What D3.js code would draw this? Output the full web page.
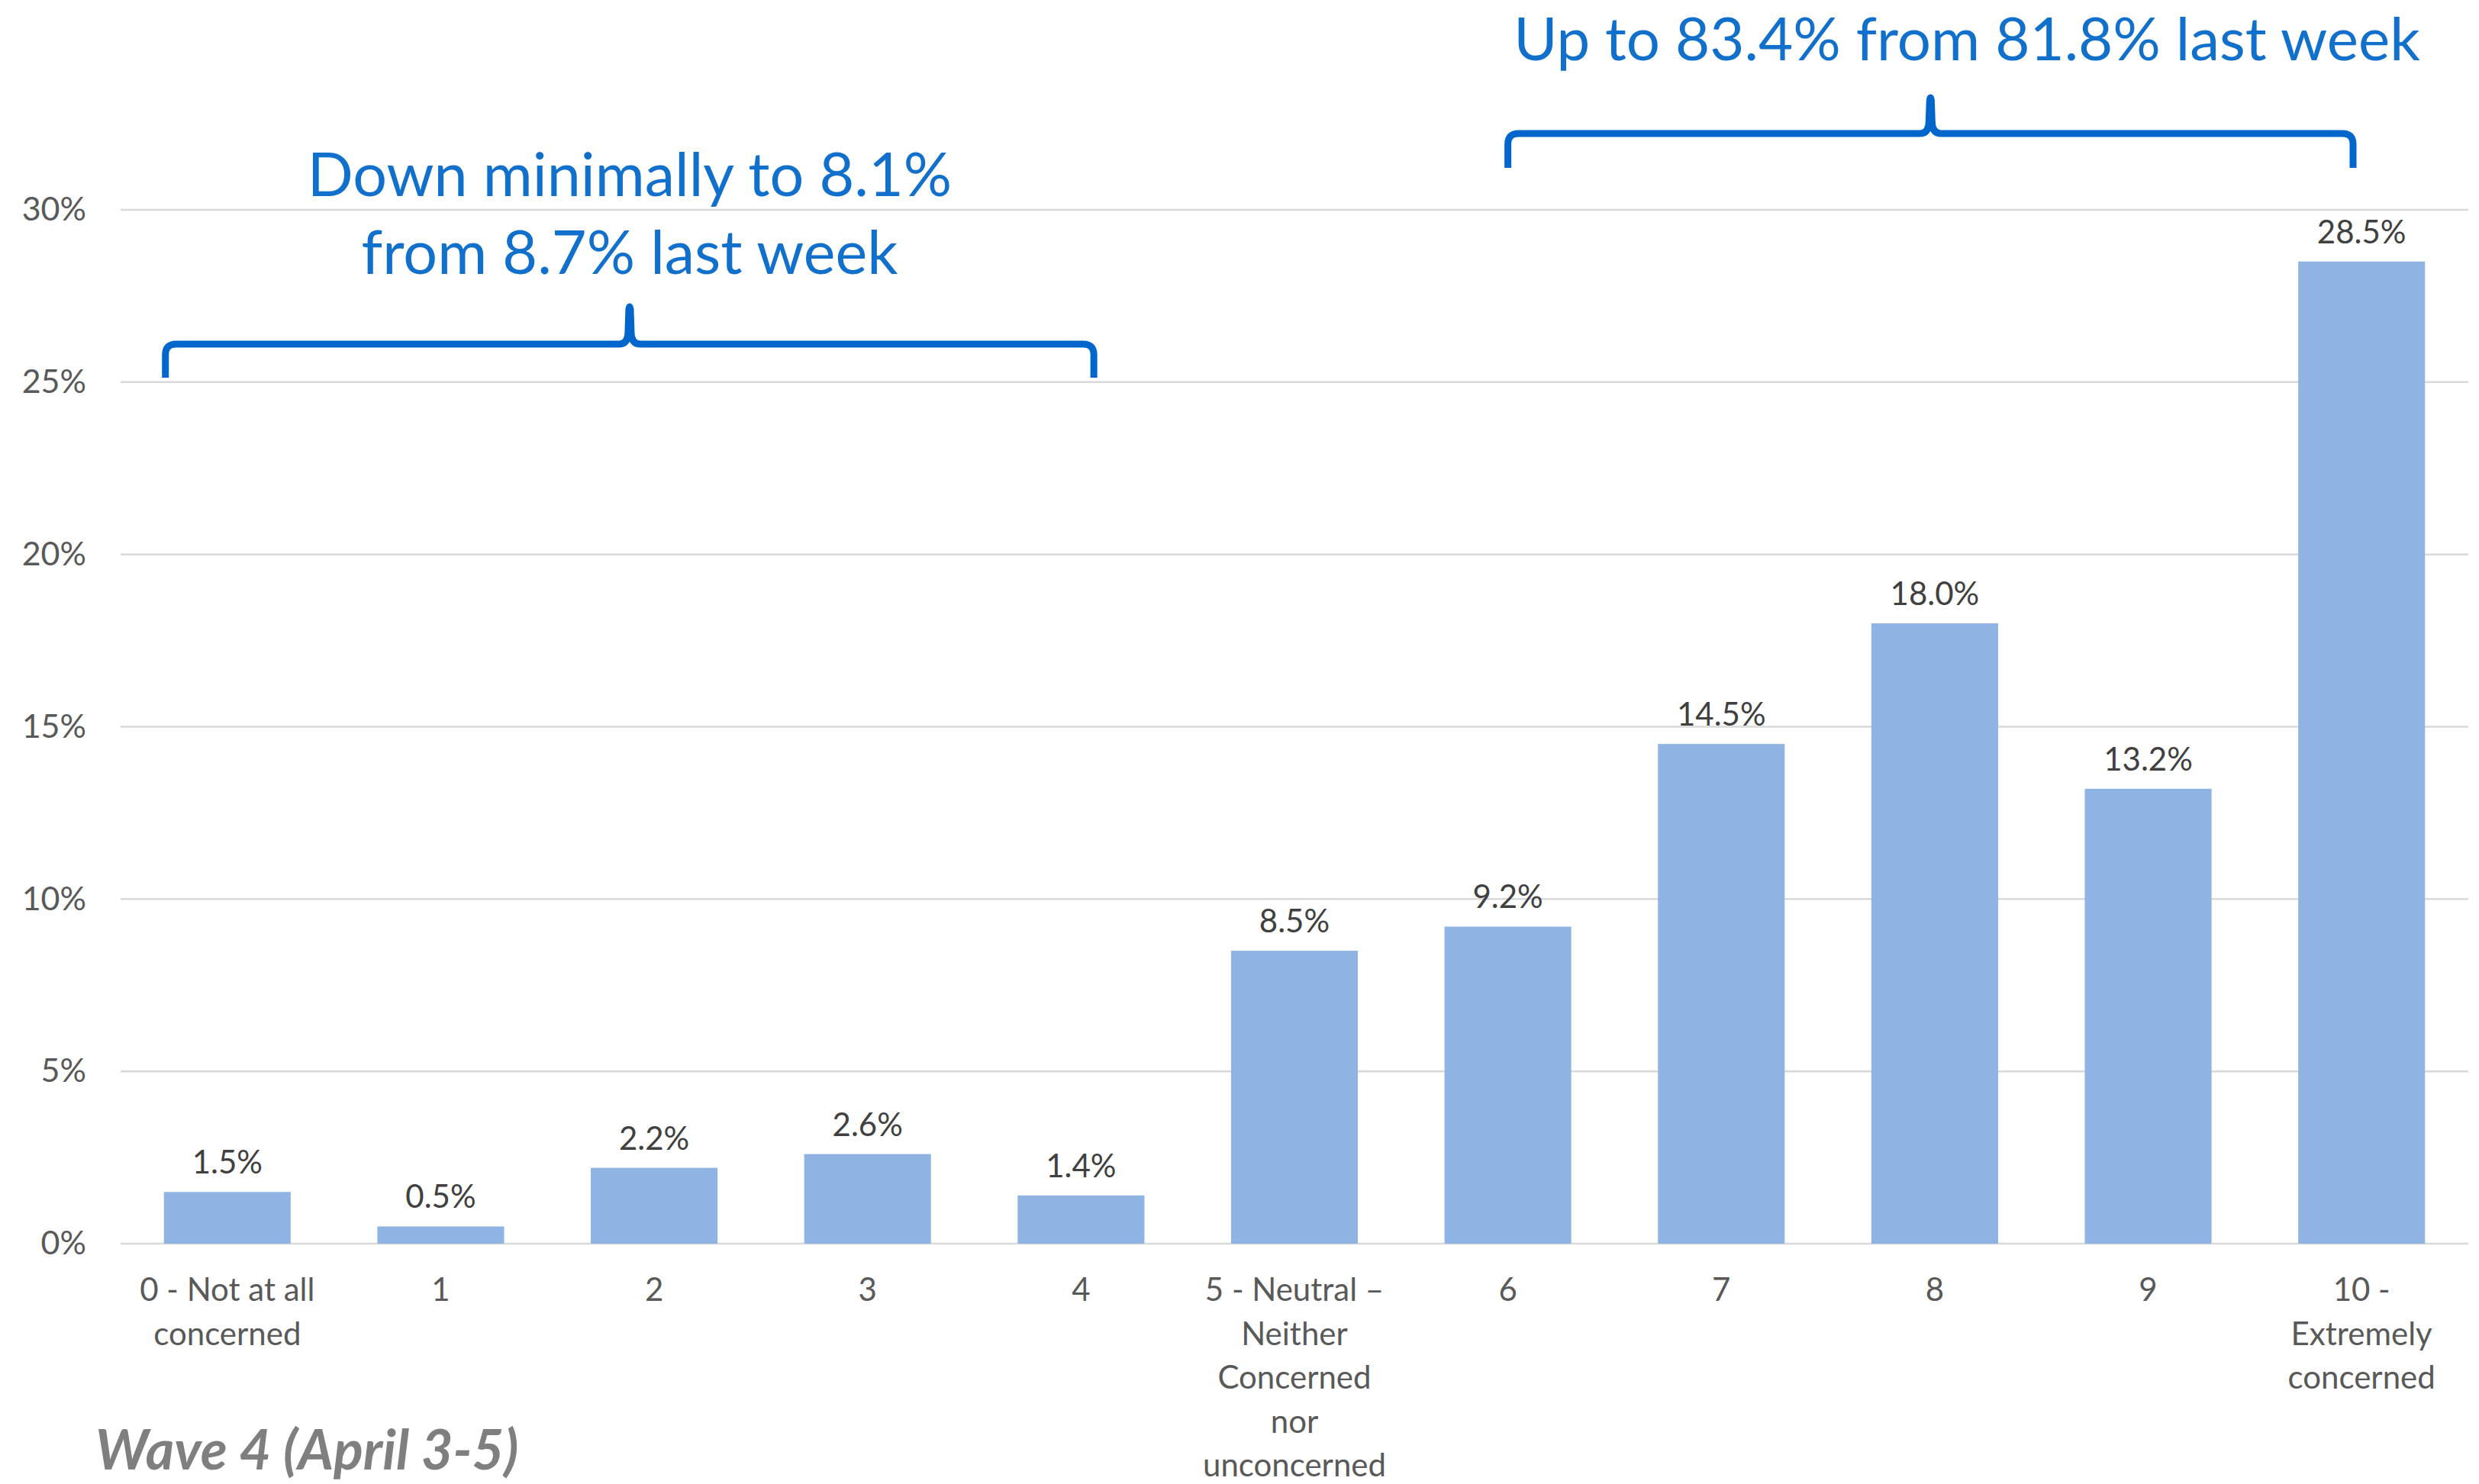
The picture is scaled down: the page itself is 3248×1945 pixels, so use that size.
<!DOCTYPE html>
<html>
<head>
<meta charset="utf-8">
<script src="https://cdn.jsdelivr.net/npm/d3@7"></script>
<style>
  html, body { margin: 0; padding: 0; background: #fff; }
  svg { display: block; font-family: Lato, "Open Sans", sans-serif; }
</style>
</head>
<body>
<svg id="chart" width="3248" height="1945"></svg>
<script>
// Concern scale, share of respondents per level
const categories = [
  "0 - Not at all\nconcerned", "1", "2", "3", "4",
  "5 - Neutral –\nNeither\nConcerned\nnor\nunconcerned",
  "6", "7", "8", "9", "10 -\nExtremely\nconcerned"
];
const shares = [1.5, 0.5, 2.2, 2.6, 1.4, 8.5, 9.2, 14.5, 18.0, 13.2, 28.5];
const yTicks = [0, 5, 10, 15, 20, 25, 30];
const lowNote = ["Down minimally to 8.1%", "from 8.7% last week"];
const highNote = ["Up to 83.4% from 81.8% last week"];
const footnote = "Wave 4 (April 3-5)";

const svg = d3.select("#chart");
const plot = { left: 158, right: 3234, top: 275, bottom: 1630 };

const x = d3.scaleBand()
  .domain(d3.range(categories.length))
  .range([plot.left, plot.right])
  .paddingInner(0.406)
  .paddingOuter(0.203);

const y = d3.scaleLinear().domain([0, 30]).range([plot.bottom, plot.top]);

// horizontal gridlines
svg.append("g")
  .selectAll("line")
  .data(yTicks)
  .join("line")
  .attr("x1", plot.left).attr("x2", plot.right)
  .attr("y1", d => y(d)).attr("y2", d => y(d))
  .attr("stroke", "#D9D9D9").attr("stroke-width", 2.5);

// value axis labels
const yAxis = d3.axisLeft(y).tickValues(yTicks).tickFormat(d => d + "%").tickSize(0).tickPadding(0);
const yg = svg.append("g").attr("transform", "translate(113,0)").call(yAxis);
yg.select(".domain").remove();
yg.selectAll("text")
  .attr("fill", "#595959").attr("font-size", 43)
  .attr("font-family", "Lato, sans-serif");

// bars
const cx = i => x(i) + x.bandwidth() / 2;
svg.append("g")
  .selectAll("rect")
  .data(shares)
  .join("rect")
  .attr("x", (d, i) => x(i))
  .attr("width", x.bandwidth())
  .attr("y", d => y(d))
  .attr("height", d => y(0) - y(d))
  .attr("fill", "#8FB4E3");

// value labels above bars
svg.append("g")
  .selectAll("text")
  .data(shares)
  .join("text")
  .attr("x", (d, i) => cx(i))
  .attr("y", d => y(d) - 24)
  .attr("text-anchor", "middle")
  .attr("font-size", 42)
  .attr("fill", "#404040")
  .text(d => d.toFixed(1) + "%");

// category labels, one tspan per line
const cat = svg.append("g")
  .selectAll("text")
  .data(categories)
  .join("text")
  .attr("text-anchor", "middle")
  .attr("font-size", 42)
  .attr("fill", "#595959");
cat.each(function (d, i) {
  const t = d3.select(this);
  d.split("\n").forEach((line, k) => {
    t.append("tspan").attr("x", cx(i)).attr("y", 1705 + k * 57.5).text(line);
  });
});

// curly bracket drawn from left end, peak and right end
function brace(x0, x1, yLine, yEnd, yPeak, xm) {
  const r = 14;
  return `M${x0},${yEnd} L${x0},${yLine + r} Q${x0},${yLine} ${x0 + r},${yLine}`
    + ` L${xm - 14},${yLine} Q${xm - 2},${yLine} ${xm - 2},${yLine - 16}`
    + ` L${xm - 1},${yPeak + 3} Q${xm},${yPeak - 3} ${xm + 1},${yPeak + 3}`
    + ` L${xm + 2},${yLine - 16} Q${xm + 2},${yLine} ${xm + 14},${yLine}`
    + ` L${x1 - r},${yLine} Q${x1},${yLine} ${x1},${yLine + r} L${x1},${yEnd}`;
}

const step = x.step();
const lowX0 = cx(0) - 0.29 * step, lowX1 = cx(4) + 0.06 * step;
const highX0 = cx(6), highX1 = cx(10) - 0.04 * step;

const ann = svg.append("g");
ann.append("path")
  .attr("d", brace(lowX0, lowX1, 451, 495, 402, (lowX0 + lowX1) / 2))
  .attr("fill", "none").attr("stroke", "#0066CC").attr("stroke-width", 9)
  .attr("stroke-linejoin", "round");
ann.append("path")
  .attr("d", brace(highX0, highX1, 175, 220, 128, (highX0 + highX1) / 2))
  .attr("fill", "none").attr("stroke", "#0066CC").attr("stroke-width", 9)
  .attr("stroke-linejoin", "round");

ann.append("g")
  .selectAll("text")
  .data(lowNote)
  .join("text")
  .attr("x", (lowX0 + lowX1) / 2)
  .attr("y", (d, k) => 257 + k * 102)
  .attr("text-anchor", "middle")
  .attr("font-size", 79)
  .attr("fill", "#1170CC")
  .text(d => d);

ann.append("g")
  .selectAll("text")
  .data(highNote)
  .join("text")
  .attr("x", 2577)
  .attr("y", 79)
  .attr("text-anchor", "middle")
  .attr("font-size", 78)
  .attr("fill", "#1170CC")
  .text(d => d);

svg.append("text")
  .attr("x", 125).attr("y", 1926)
  .attr("font-size", 72)
  .attr("font-weight", "bold")
  .attr("font-style", "italic")
  .attr("fill", "#7F7F7F")
  .text(footnote);
</script>
</body>
</html>
